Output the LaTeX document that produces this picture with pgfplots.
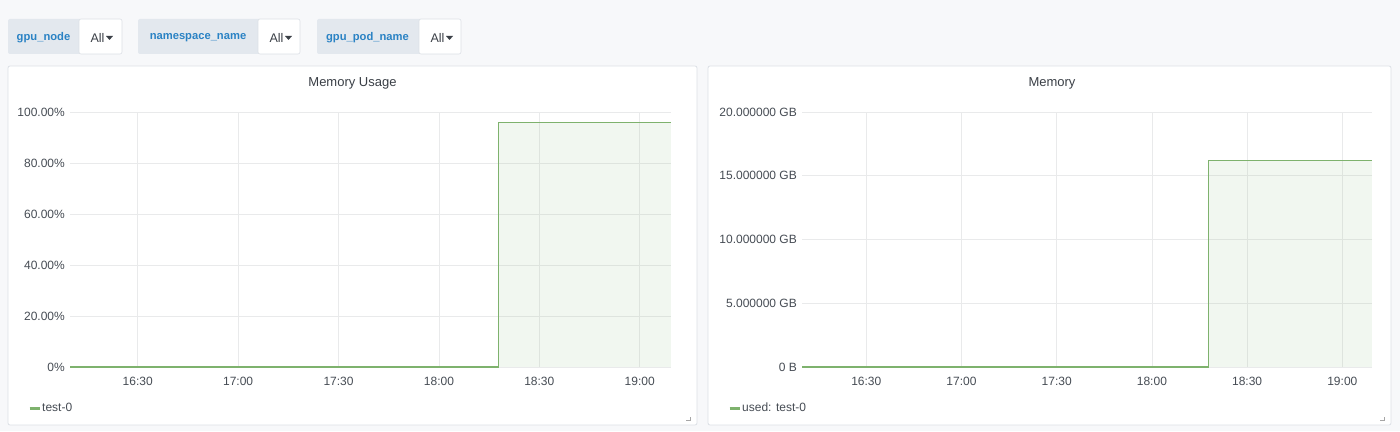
\documentclass[border=0pt]{standalone}
\usepackage{pgfplots}
\pgfplotsset{compat=1.18}
\usepackage{fontspec}
\setmainfont{Liberation Sans}
\definecolor{bg}{HTML}{F7F8FA}
\definecolor{panelborder}{HTML}{DCE0E6}
\definecolor{varbg}{HTML}{E3E8EE}
\definecolor{varblue}{HTML}{2A82C4}
\definecolor{txt}{HTML}{464C54}
\definecolor{titlec}{HTML}{3A3F46}
\definecolor{gridc}{HTML}{E9EAEB}
\definecolor{linec}{HTML}{7EB26D}
\newcommand{\tk}{\fontsize{12}{14}\selectfont}
\pgfplotsset{
  grafana/.style={
    scale only axis,
    anchor=south west,
    height=255pt,
    xmin=9.75, xmax=189.35,
    xtick={30,60,90,120,150,180},
    xticklabels={16:30,17:00,17:30,18:00,18:30,19:00},
    grid=major,
    major grid style={gridc, line width=0.8pt},
    axis line style={draw=none},
    major tick length=0pt,
    tick label style={font=\tk, color=txt},
    yticklabel style={anchor=east, inner sep=0pt, xshift=-5pt},
    xticklabel style={anchor=north, inner sep=0pt, yshift=-9.5pt},
    /pgf/number format/assume math mode=true,
    clip=false,
    legend image code/.code={\draw[line width=3pt, linec] (0pt,0pt) -- (10pt,0pt);},
    legend style={draw=none, fill=none, inner sep=0pt, font=\tk, text=txt,
      nodes={inner sep=0pt}, /tikz/every even column/.append style={column sep=5pt}},
  }
}
\begin{document}
\begin{tikzpicture}
\fill[bg] (0pt,0pt) rectangle (1400pt,431pt);
\path[use as bounding box] (0pt,0pt) rectangle (1400pt,431pt);
\begin{scope}[x=1pt,y=1pt]
% panels
\filldraw[fill=white, draw=panelborder, line width=0.8pt, rounded corners=2pt] (8,6) rectangle (697,365);
\filldraw[fill=white, draw=panelborder, line width=0.8pt, rounded corners=2pt] (708,6) rectangle (1391,365);
% resize handles
\draw[gray!70, line width=1pt] (686,10) -- (690,10) -- (690,14);
\draw[gray!70, line width=1pt] (1380,10) -- (1384,10) -- (1384,14);
% variable selectors
\fill[varbg, rounded corners=2pt] (8,377) rectangle (82,412);
\fill[varbg] (75,377) rectangle (79,412);
\filldraw[fill=white, draw=panelborder, line width=0.6pt, rounded corners=2pt] (79,377) rectangle (122,412);
\node[font=\fontsize{11.2}{13}\selectfont\bfseries, text=varblue] at (43.5,393) {gpu\_node};
\node[font=\fontsize{12.5}{14}\selectfont, text=titlec, anchor=west] at (87,393) {All};
\fill[titlec] (106,395) -- (113,395) -- (109.5,391) -- cycle;
%
\fill[varbg, rounded corners=2pt] (138,377) rectangle (262,412);
\fill[varbg] (255,377) rectangle (258,412);
\filldraw[fill=white, draw=panelborder, line width=0.6pt, rounded corners=2pt] (258,377) rectangle (300,412);
\node[font=\fontsize{11.2}{13}\selectfont\bfseries, text=varblue] at (198,393) {namespace\_name};
\node[font=\fontsize{12.5}{14}\selectfont, text=titlec, anchor=west] at (266,393) {All};
\fill[titlec] (285,395) -- (292,395) -- (288.5,391) -- cycle;
%
\fill[varbg, rounded corners=2pt] (317,377) rectangle (423,412);
\fill[varbg] (416,377) rectangle (419,412);
\filldraw[fill=white, draw=panelborder, line width=0.6pt, rounded corners=2pt] (419,377) rectangle (461,412);
\node[font=\fontsize{11.2}{13}\selectfont\bfseries, text=varblue] at (367.5,393) {gpu\_pod\_name};
\node[font=\fontsize{12.5}{14}\selectfont, text=titlec, anchor=west] at (427,393) {All};
\fill[titlec] (446,395) -- (453,395) -- (449.5,391) -- cycle;
% titles
\node[font=\fontsize{13}{15}\selectfont, text=titlec] at (352.5,348) {Memory Usage};
\node[font=\fontsize{13}{15}\selectfont, text=titlec] at (1052,348) {Memory};
\end{scope}
% left axis
\begin{axis}[grafana, at={(70pt,64pt)}, width=601pt,
  ymin=0, ymax=100,
  ytick={0,20,40,60,80,100},
  yticklabels={0\%,20.00\%,40.00\%,60.00\%,80.00\%,100.00\%},
  legend style={at={(-0.0699,-0.161)}, anchor=west}]
\addplot[fill=linec, fill opacity=0.1, draw=none, forget plot] coordinates {(137.9,0) (137.9,95.8) (189.35,95.8) (189.35,0)} -- cycle;
\addplot[linec, line width=1pt, mark=none] coordinates {(9.75,0) (137.9,0) (137.9,95.8) (189.35,95.8)};
\addlegendentry{\hspace{1pt}test-0}
\end{axis}
% right axis
\begin{axis}[grafana, at={(802pt,64pt)}, width=570pt,
  ymin=0, ymax=20,
  ytick={0,5,10,15,20},
  yticklabels={0 B,5.000000 GB,10.000000 GB,15.000000 GB,20.000000 GB},
  legend style={at={(-0.1298,-0.161)}, anchor=west}]
\addplot[fill=linec, fill opacity=0.1, draw=none, forget plot] coordinates {(137.96,0) (137.96,16.16) (189.35,16.16) (189.35,0)} -- cycle;
\addplot[linec, line width=1pt, mark=none] coordinates {(9.75,0) (137.96,0) (137.96,16.16) (189.35,16.16)};
\addlegendentry{\hspace{1pt}used: test-0}
\end{axis}
\end{tikzpicture}
\end{document}
